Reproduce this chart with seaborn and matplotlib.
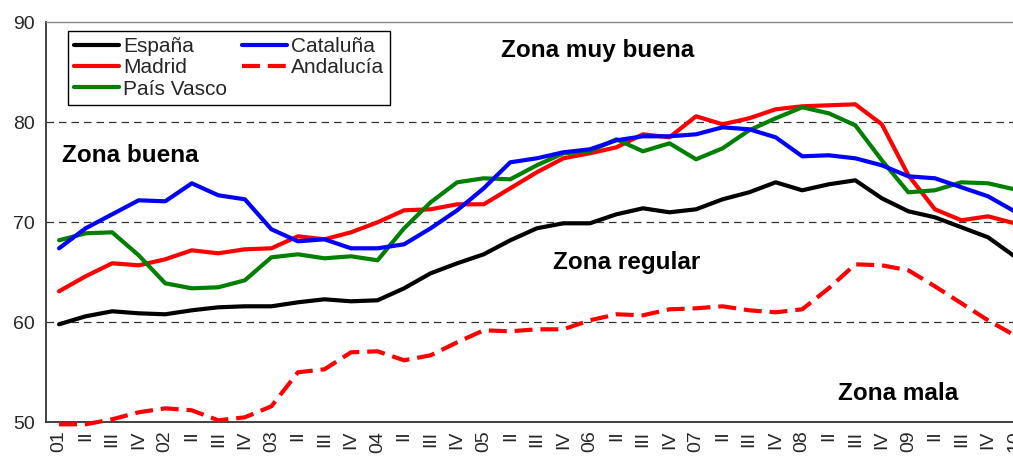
import numpy as np
import pandas as pd
import matplotlib
matplotlib.use("Agg")
import matplotlib.pyplot as plt
import seaborn as sns

# ---- data ----
tick_labels = []
for yr in ["01", "02", "03", "04", "05", "06", "07", "08", "09"]:
    tick_labels += [yr, "II", "III", "IV"]
tick_labels += ["10"]

espana = [59.8, 60.6, 61.1, 60.9, 60.8, 61.2, 61.5, 61.6, 61.6, 62.0, 62.3, 62.1, 62.2,
          63.4, 64.9, 65.9, 66.8, 68.2, 69.4, 69.9, 69.9, 70.8, 71.4, 71.0, 71.3, 72.3,
          73.0, 74.0, 73.2, 73.8, 74.2, 72.4, 71.1, 70.5, 69.5, 68.5, 66.6]
cataluna = [67.4, 69.4, 70.8, 72.2, 72.1, 73.9, 72.7, 72.3, 69.3, 68.1, 68.3, 67.4, 67.4,
            67.8, 69.4, 71.2, 73.4, 76.0, 76.4, 77.0, 77.3, 78.2, 78.6, 78.6, 78.8, 79.5,
            79.3, 78.5, 76.6, 76.7, 76.4, 75.7, 74.6, 74.4, 73.5, 72.6, 71.1]
madrid = [63.1, 64.6, 65.9, 65.7, 66.3, 67.2, 66.9, 67.3, 67.4, 68.6, 68.3, 69.0, 70.0,
          71.2, 71.3, 71.8, 71.8, 73.4, 75.0, 76.4, 76.9, 77.5, 78.8, 78.5, 80.6, 79.8,
          80.4, 81.3, 81.6, 81.7, 81.8, 79.8, 74.7, 71.3, 70.2, 70.6, 69.9]
andalucia = [49.8, 49.8, 50.3, 51.0, 51.4, 51.2, 50.2, 50.5, 51.6, 55.0, 55.3, 57.0, 57.1,
             56.2, 56.7, 58.0, 59.2, 59.1, 59.3, 59.3, 60.2, 60.8, 60.7, 61.3, 61.4, 61.6,
             61.2, 61.0, 61.3, 63.4, 65.8, 65.7, 65.2, 63.6, 61.9, 60.2, 58.7]
pais_vasco = [68.2, 68.9, 69.0, 66.7, 63.9, 63.4, 63.5, 64.2, 66.5, 66.8, 66.4, 66.6, 66.2,
              69.4, 72.0, 74.0, 74.4, 74.3, 75.7, 76.9, 77.1, 78.3, 77.1, 77.9, 76.3, 77.4,
              79.2, 80.4, 81.5, 80.9, 79.7, 76.2, 73.0, 73.2, 74.0, 73.9, 73.3]

series_names = ["España", "Madrid", "País Vasco", "Cataluña", "Andalucía"]
series_vals = [espana, madrid, pais_vasco, cataluna, andalucia]
series_colors = ["#000000", "#FF0000", "#008000", "#0000FF", "#FF0000"]

zone_labels = ["Zona muy buena", "Zona buena", "Zona regular", "Zona mala"]

# ---- figure ----
sns.set_style("white")
plt.rcParams["font.family"] = ["Liberation Sans", "DejaVu Sans"]

W, H = 1013, 470
fig = plt.figure(figsize=(W / 100, H / 100), dpi=100)
ax = fig.add_axes([45.8 / W, (H - 422.3) / H, 982.0 / W, 400.0 / H])

x = np.arange(len(tick_labels))
frames = []
for name, vals in zip(series_names, series_vals):
    frames.append(pd.DataFrame({"t": x, "v": vals, "serie": name}))
df = pd.concat(frames, ignore_index=True)

for name, col in zip(series_names, series_colors):
    sub = df[df["serie"] == name]
    sns.lineplot(data=sub, x="t", y="v", ax=ax, color=col, linewidth=3.0,
                 label=name, legend=False)
    ln = ax.lines[-1]
    ln.set_clip_on(False)
    ln.set_zorder(3)
    if name == "Andalucía":
        ln.set_dashes((4.3, 1.9))

ax.set_xlim(-0.5, len(tick_labels) - 0.5)
ax.set_ylim(50, 90)
ax.set_xlabel("")
ax.set_ylabel("")

# grid lines
for gy in [60, 70, 80]:
    ax.axhline(gy, color="#333333", linewidth=0.9, dashes=(6, 4), zorder=0)

# ticks
ax.set_yticks([50, 60, 70, 80, 90])
ax.set_yticklabels(["50", "60", "70", "80", "90"], fontsize=14)
ax.set_xticks(x)
ax.set_xticklabels(tick_labels, rotation=90, fontsize=14)
ax.set_xticks(np.arange(len(tick_labels) + 1) - 0.5, minor=True)
ax.tick_params(axis="x", which="major", length=0, pad=6)
ax.tick_params(axis="x", which="minor", length=5, width=1, color="#333333", direction="out")
ax.tick_params(axis="y", which="major", length=5, width=1, color="#333333", direction="out", pad=3)

for s in ["left", "bottom"]:
    ax.spines[s].set_color("#333333")
    ax.spines[s].set_linewidth(1.3)
    ax.spines[s].set_zorder(2)
ax.spines["top"].set_color("#888888")
ax.spines["top"].set_linewidth(1.0)
ax.spines["right"].set_visible(False)

# zone texts
zone_pos = [(20.3, 87.2, "center"), (0.1, 76.7, "left"), (18.6, 66.0, "left"), (29.35, 52.9, "left")]
for lab, (zx, zy, ha) in zip(zone_labels, zone_pos):
    ax.text(zx, zy, lab, fontsize=17.5, fontweight="bold", ha=ha, va="center", color="black")

# legend
handles = ax.lines[:5]
leg = ax.legend(handles, series_names, ncol=2, loc="upper left",
                bbox_to_anchor=(0.0226, 0.978), borderaxespad=0, fontsize=15,
                frameon=True, fancybox=False, edgecolor="#000000", framealpha=1,
                handlelength=2.15, handletextpad=0.2, columnspacing=0.7,
                labelspacing=0.1, borderpad=0.3)
leg.get_frame().set_linewidth(1.0)
leg.set_zorder(5)

fig.savefig("out.png", dpi=100)
